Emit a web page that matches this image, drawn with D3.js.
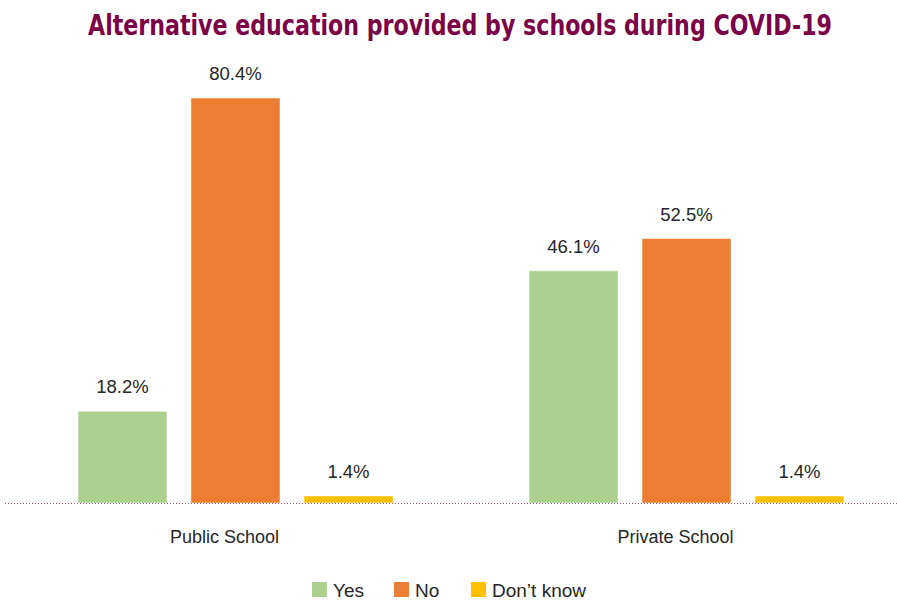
<!DOCTYPE html>
<html>
<head>
<meta charset="utf-8">
<script src="https://cdn.jsdelivr.net/npm/d3@7"></script>
<style>
  html, body { margin: 0; padding: 0; background: #fff; }
  svg { display: block; }
</style>
</head>
<body>
<svg id="chart" width="897" height="601"></svg>
<script>
// Survey results: was alternative education provided during school closures?
const categories = ["Public School", "Private School"];
const seriesNames = ["Yes", "No", "Don\u2019t know"];
const yesValues = [18.2, 46.1];
const noValues = [80.4, 52.5];
const dontKnowValues = [1.4, 1.4];
const seriesColors = ["#acd08e", "#ed7d31", "#ffc000"];

const seriesValues = [yesValues, noValues, dontKnowValues];
const rows = categories.map((c, i) => ({
  category: c,
  values: seriesNames.map((s, j) => ({ series: s, value: seriesValues[j][i], color: seriesColors[j] }))
}));

const svg = d3.select("#chart");
const W = 897;
const baseY = 503;
const bodyFont = "'Liberation Sans', Arial, sans-serif";
const textColor = "#262626";

const x0 = d3.scaleBand().domain(categories).range([10, 912]).paddingInner(0).paddingOuter(0);
const x1 = d3.scaleBand().domain(seriesNames).range([68, x0.bandwidth() - 68]).paddingInner(0.212).paddingOuter(0);
const y = d3.scaleLinear().domain([0, 80.4]).range([baseY, 98]);

// Title: condensed bold, stretched slightly taller
svg.append("text")
  .attr("transform", "translate(88,35) scale(1,1.2)")
  .attr("font-family", "'DejaVu Sans Condensed', 'DejaVu Sans', sans-serif")
  .attr("font-stretch", "condensed")
  .attr("font-weight", "bold")
  .attr("font-size", 24)
  .attr("textLength", 744)
  .attr("lengthAdjust", "spacingAndGlyphs")
  .attr("fill", "#7b0046")
  .text("Alternative education provided by schools during COVID-19");

const groups = svg.append("g").selectAll("g")
  .data(rows).join("g")
  .attr("transform", d => `translate(${x0(d.category)},0)`);

groups.selectAll("rect")
  .data(d => d.values).join("rect")
  .attr("x", d => x1(d.series))
  .attr("y", d => y(d.value))
  .attr("width", x1.bandwidth())
  .attr("height", d => baseY - y(d.value))
  .attr("fill", d => d.color)
  .attr("stroke", "#ffffff")
  .attr("stroke-opacity", 0.5)
  .attr("stroke-width", 1);

groups.selectAll("text.val")
  .data(d => d.values).join("text")
  .attr("class", "val")
  .attr("x", d => x1(d.series) + x1.bandwidth() / 2)
  .attr("y", d => y(d.value) - 18)
  .attr("text-anchor", "middle")
  .attr("font-family", bodyFont)
  .attr("font-size", 18.5)
  .attr("fill", textColor)
  .text(d => d.value.toFixed(1) + "%");

// Baseline axis (dotted)
svg.append("line")
  .attr("x1", 5).attr("x2", W)
  .attr("y1", baseY + 0.5).attr("y2", baseY + 0.5)
  .attr("stroke", "#9b5a7a")
  .attr("stroke-width", 1)
  .attr("stroke-dasharray", "1,2");

// Category labels
const xAxis = d3.axisBottom(x0).tickSize(0).tickPadding(0);
const axisG = svg.append("g").attr("transform", `translate(0,${baseY})`).call(xAxis);
axisG.select(".domain").remove();
axisG.selectAll("text")
  .attr("x", -11)
  .attr("y", 40)
  .attr("dy", 0)
  .attr("font-family", bodyFont)
  .attr("font-size", 18)
  .attr("fill", textColor);

// Legend
const legendX = [312, 394, 471];
const legend = svg.append("g").selectAll("g")
  .data(seriesNames).join("g")
  .attr("transform", (d, i) => `translate(${legendX[i]},582)`);
legend.append("rect")
  .attr("width", 15).attr("height", 15)
  .attr("fill", (d, i) => seriesColors[i]);
legend.append("text")
  .attr("x", 21).attr("y", 15)
  .attr("font-family", bodyFont)
  .attr("font-size", 19)
  .attr("fill", textColor)
  .text(d => d);
</script>
</body>
</html>
